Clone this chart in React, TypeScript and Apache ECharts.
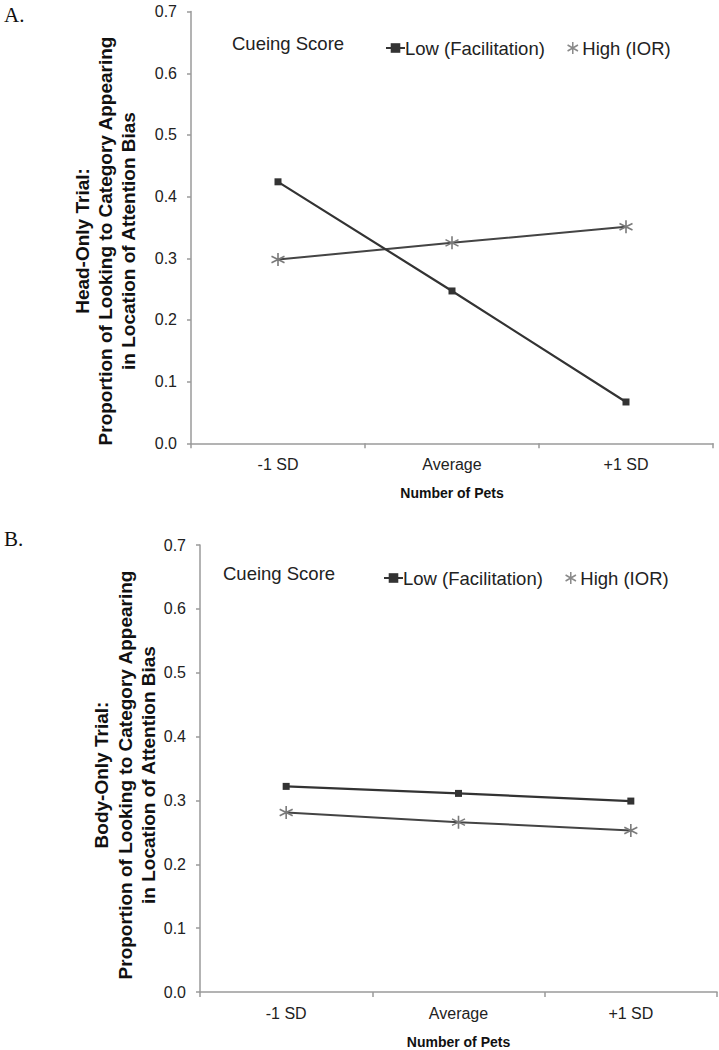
import React, { useEffect, useRef } from "react";
import * as echarts from "echarts";

const categories = ["-1 SD", "Average", "+1 SD"];
const headLow = [0.424, 0.247, 0.067];
const headHigh = [0.298, 0.325, 0.351];
const bodyLow = [0.322, 0.311, 0.299];
const bodyHigh = [0.281, 0.266, 0.253];
const yMin = 0;
const yMax = 0.7;
const yStep = 0.1;
const seriesNames = ["Low (Facilitation)", "High (IOR)"];
const legendTitle = "Cueing Score";
const xTitle = "Number of Pets";
const yTitleA = "Head-Only Trial:\nProportion of Looking to Category Appearing\nin Location of Attention Bias";
const yTitleB = "Body-Only Trial:\nProportion of Looking to Category Appearing\nin Location of Attention Bias";

const FONT = "'Liberation Sans', Arial, Helvetica, sans-serif";
const ASTERISK = "path://M6,0L6,12M0.8,3L11.2,9M0.8,9L11.2,3";

export default function App() {
  const ref = useRef<HTMLDivElement>(null);
  useEffect(() => {
    if (!ref.current) return;
    const chart = echarts.init(ref.current, null, { renderer: "svg" });
    const axisColor = "#9a9a9a";
    const mkX = (gridIndex: number) => ({
      type: "category",
      gridIndex,
      data: categories,
      boundaryGap: true,
      axisLine: { show: true, lineStyle: { color: axisColor, width: 1.5 } },
      axisTick: { show: true, length: 5, lineStyle: { color: axisColor, width: 1.5 } },
      axisLabel: { color: "#222", fontSize: 16, fontFamily: FONT, margin: 13 },
      splitLine: { show: false },
      name: xTitle,
      nameLocation: "middle",
      nameGap: 43,
      nameTextStyle: { color: "#111", fontSize: 14, fontWeight: "bold", fontFamily: FONT },
    });
    const mkY = (gridIndex: number) => ({
      type: "value",
      gridIndex,
      min: yMin,
      max: yMax,
      interval: yStep,
      axisLine: { show: true, lineStyle: { color: axisColor, width: 1.5 } },
      axisTick: { show: true, length: 4, lineStyle: { color: axisColor, width: 1.5 } },
      axisLabel: {
        color: "#222",
        fontSize: 16,
        fontFamily: FONT,
        margin: 14,
        formatter: (v: number) => v.toFixed(1),
      },
      splitLine: { show: false },
    });
    const lowSeries = (data: number[], idx: number) => ({
      name: seriesNames[0],
      type: "line",
      xAxisIndex: idx,
      yAxisIndex: idx,
      data,
      symbol: "rect",
      symbolSize: 7,
      itemStyle: { color: "#333" },
      lineStyle: { color: "#333", width: 2.2 },
      z: 3,
    });
    const highSeries = (data: number[], idx: number) => ({
      name: seriesNames[1],
      type: "line",
      xAxisIndex: idx,
      yAxisIndex: idx,
      data,
      symbol: ASTERISK,
      symbolSize: 13,
      itemStyle: { color: "rgba(0,0,0,0)", borderColor: "#7a7a7a", borderWidth: 1.6 },
      lineStyle: { color: "#444", width: 2 },
      z: 2,
    });
    const mkLegend = (left: number, centerY: number) => ({
      left,
      top: centerY - 11,
      orient: "horizontal",
      itemWidth: 19,
      itemHeight: 12,
      itemGap: 22,
      textStyle: {
        color: "#222",
        fontSize: 18.5,
        fontFamily: FONT,
        lineHeight: 22,
        padding: [0, 0, 0, -5],
      },
      data: [
        { name: seriesNames[0] },
        {
          name: seriesNames[1],
          icon: ASTERISK,
          itemStyle: { color: "rgba(0,0,0,0)", borderColor: "#8a8a8a", borderWidth: 1.5 },
        },
      ],
      selectedMode: false,
    });
    const textEl = (text: string, x: number, y: number, extra: any = {}) => ({
      type: "text",
      x,
      y,
      style: {
        text,
        fill: "#111",
        fontFamily: FONT,
        fontSize: 18.5,
        ...extra,
      },
    });
    chart.setOption({
      animation: false,
      backgroundColor: "#fff",
      grid: [
        { left: 191, top: 11.6, width: 522, height: 431.7 },
        { left: 200, top: 545, width: 517, height: 450 },
      ],
      xAxis: [mkX(0), mkX(1)],
      yAxis: [mkY(0), mkY(1)],
      legend: [mkLegend(380, 43), mkLegend(378, 573)],
      series: [
        lowSeries(headLow, 0),
        highSeries(headHigh, 0),
        lowSeries(bodyLow, 1),
        highSeries(bodyHigh, 1),
      ],
      graphic: [
        textEl("A.", 4, 15, { fontFamily: "'Liberation Serif', 'Times New Roman', serif", fontSize: 21, verticalAlign: "middle" }),
        textEl("B.", 4, 539, { fontFamily: "'Liberation Serif', 'Times New Roman', serif", fontSize: 21, verticalAlign: "middle" }),
        textEl(legendTitle, 232, 43, { verticalAlign: "middle", fill: "#222" }),
        textEl(legendTitle, 223, 573, { verticalAlign: "middle", fill: "#222" }),
        {
          type: "text",
          x: 105,
          y: 241,
          rotation: Math.PI / 2,
          style: {
            text: yTitleA,
            fill: "#111",
            fontFamily: FONT,
            fontSize: 19,
            fontWeight: "bold",
            lineHeight: 23,
            align: "center",
            verticalAlign: "middle",
          },
        },
        {
          type: "text",
          x: 125,
          y: 775,
          rotation: Math.PI / 2,
          style: {
            text: yTitleB,
            fill: "#111",
            fontFamily: FONT,
            fontSize: 19,
            fontWeight: "bold",
            lineHeight: 23.5,
            align: "center",
            verticalAlign: "middle",
          },
        },
      ],
    });
    return () => chart.dispose();
  }, []);
  return (
    <div
      ref={ref}
      style={{ position: "absolute", left: 0, top: 0, width: 719, height: 1050, background: "#fff" }}
    />
  );
}
